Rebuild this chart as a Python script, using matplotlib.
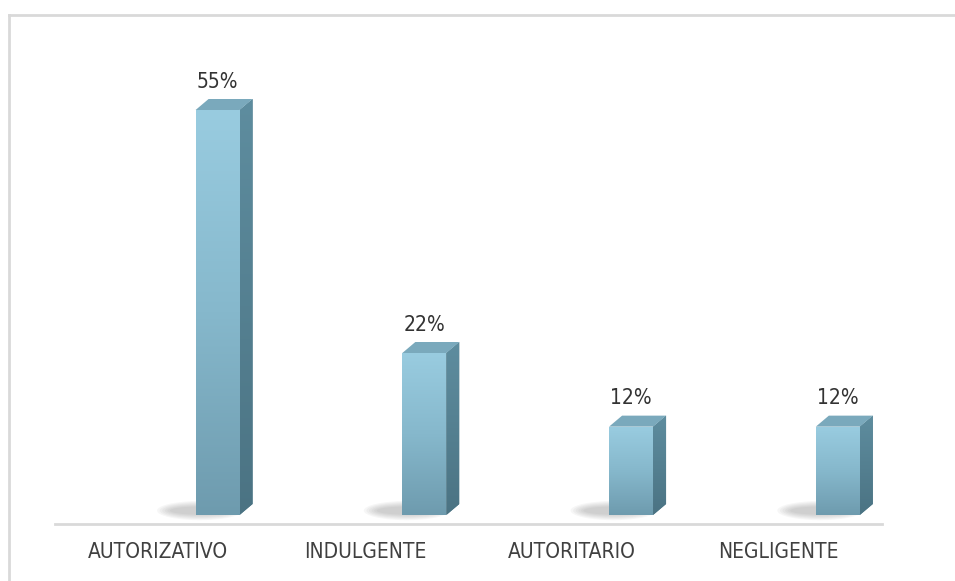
import numpy as np
import matplotlib
matplotlib.use("Agg")
import matplotlib.pyplot as plt
from matplotlib.patches import Polygon, Ellipse
from matplotlib.colors import LinearSegmentedColormap
from matplotlib.lines import Line2D

categories = ["AUTORIZATIVO", "INDULGENTE", "AUTORITARIO", "NEGLIGENTE"]
values = [55, 22, 12, 12]
labels = ["55%", "22%", "12%", "12%"]

W, H = 955, 581
fig = plt.figure(figsize=(W / 100, H / 100), dpi=100)
fig.patch.set_facecolor("white")

# plot area in pixels: baseline at y=524, x from 55 to 882
left_px, right_px, base_px, top_px = 55, 882, 524, 15
ax = fig.add_axes([left_px / W, (H - base_px) / H,
                   (right_px - left_px) / W, (base_px - top_px) / H])
px_per_unit = 405 / 55.0
ymin = -9 / px_per_unit
ax.set_xlim(0, 4)
ax.set_ylim(ymin, ymin + (base_px - top_px) / px_per_unit)
ax.axis("off")

# 3d bar geometry (data units)
x_unit = (right_px - left_px) / 4
off, bw = 0.18, 44 / x_unit
dx, dy = 13 / x_unit, 11 / px_per_unit

front_cmap = LinearSegmentedColormap.from_list("front", ["#99cce0", "#86b8cc", "#6e9bae"])
side_cmap = LinearSegmentedColormap.from_list("side", ["#5e8d9f", "#4b7383"])
grad = np.linspace(0, 1, 256).reshape(-1, 1)

for i, (v, lab) in enumerate(zip(values, labels)):
    x0 = i + 0.5 + off
    # soft shadow on the floor
    for k in range(6):
        sh = Ellipse((x0 + 0.02, 0.6), bw + 0.20 - k * 0.025, 2.6 - k * 0.3,
                     color="#555555", alpha=0.05, lw=0, zorder=1)
        ax.add_patch(sh)
    bars = ax.bar(x0, v, width=bw, align="edge", color="#86b8cc", lw=0, zorder=3)
    im = ax.imshow(grad, cmap=front_cmap, aspect="auto",
                   extent=[x0, x0 + bw, 0, v], zorder=3.5)
    im.set_clip_path(bars[0])
    side = Polygon([[x0 + bw, 0], [x0 + bw + dx, dy], [x0 + bw + dx, v + dy], [x0 + bw, v]],
                   closed=True, color="#54808f", lw=0, zorder=3)
    ax.add_patch(side)
    ims = ax.imshow(grad, cmap=side_cmap, aspect="auto",
                    extent=[x0 + bw, x0 + bw + dx, 0, v + dy], zorder=3.5)
    ims.set_clip_path(side)
    top = Polygon([[x0, v], [x0 + dx, v + dy], [x0 + bw + dx, v + dy], [x0 + bw, v]],
                  closed=True, color="#7aa9bc", lw=0, zorder=4)
    ax.add_patch(top)
    ax.text(x0 + bw / 2, v + dy + 1.0, lab, ha="center", va="bottom",
            fontsize=15, color="#333333", family="DejaVu Sans", fontstretch="condensed")

# category axis line
ax.plot([0, 4], [ymin, ymin], color="#d9d9d9", lw=2, clip_on=False, zorder=2)
for i, c in enumerate(categories):
    ax.text(i + 0.5, ymin - 2.4, c, ha="center", va="top", fontsize=15,
            color="#404040", family="DejaVu Sans", fontstretch="condensed")

# chart border (top and left)
fig.add_artist(Line2D([9 / W, 1], [1 - 15 / H, 1 - 15 / H], color="#d9d9d9", lw=2))
fig.add_artist(Line2D([9 / W, 9 / W], [0, 1 - 15 / H], color="#d9d9d9", lw=2))

fig.savefig("out.png", dpi=100, facecolor="white")
